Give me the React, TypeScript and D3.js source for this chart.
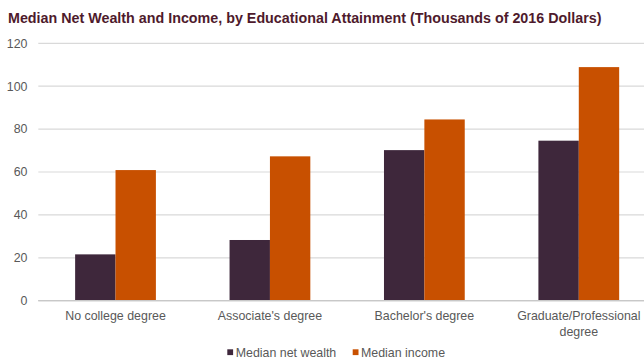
import React from "react";
import * as d3 from "d3";

const categories = ["No college degree", "Associate's degree", "Bachelor's degree", "Graduate/Professional degree"];
const seriesNames = ["Median net wealth", "Median income"];
const netWealth = [21.6, 28.3, 70.2, 74.6];
const income = [60.9, 67.3, 84.5, 108.9];
const yTicks = [0, 20, 40, 60, 80, 100, 120];

const W = 644;
const H = 358;
const FONT = "'Liberation Sans', Arial, sans-serif";
const colors = ["#3E273B", "#C85000"];
const TITLE = "Median Net Wealth and Income, by Educational Attainment (Thousands of 2016 Dollars)";

function measure(text: string, size: number): number {
  if (typeof document === "undefined") return text.length * size * 0.5;
  const c = document.createElement("canvas");
  const ctx = c.getContext("2d");
  if (!ctx) return text.length * size * 0.5;
  ctx.font = `${size}px 'Liberation Sans', Arial, sans-serif`;
  return ctx.measureText(text).width;
}

function wrap(text: string, maxW: number, size: number): string[] {
  const words = text.split(" ");
  const lines: string[] = [];
  let cur = "";
  for (const w of words) {
    const t = cur ? cur + " " + w : w;
    if (cur && measure(t, size) > maxW) {
      lines.push(cur);
      cur = w;
    } else cur = t;
  }
  if (cur) lines.push(cur);
  return lines;
}

export default function App() {
  const plotLeft = 38.3;
  const plotRight = 656;
  const y = d3.scaleLinear().domain([0, 120]).range([300.7, 43.3]);
  const x0 = d3
    .scaleBand<string>()
    .domain(categories)
    .range([plotLeft, plotRight])
    .paddingInner(0.477)
    .paddingOuter(0.2385);
  const x1 = d3.scaleBand<string>().domain(seriesNames).range([0, x0.bandwidth()]).padding(0);
  const data = [netWealth, income];
  const fs = 12.4;
  const step = x0.step();

  const legendItems = [
    { name: seriesNames[0], sx: 227.3, tx: 235.7 },
    { name: seriesNames[1], sx: 352.7, tx: 361 },
  ];

  return (
    <svg width={W} height={H} style={{ position: "absolute", left: 0, top: 0 }} fontFamily={FONT}>
      <rect width={W} height={H} fill="#ffffff" />
      <text x={8} y={22.5} fontSize={14.3} fontWeight="bold" fill="#4E1A2C">
        {TITLE}
      </text>
      {yTicks.map((t) => (
        <g key={t}>
          <line x1={plotLeft} x2={W} y1={y(t)} y2={y(t)} stroke={t === 0 ? "#c8c8c8" : "#d9d9d9"} strokeWidth={1.2} />
          <text x={27.5} y={y(t)} dy="0.35em" textAnchor="end" fontSize={fs} fill="#595959">
            {t}
          </text>
        </g>
      ))}
      {categories.map((c, i) => (
        <g key={c} transform={`translate(${x0(c)},0)`}>
          {seriesNames.map((s, k) => (
            <rect
              key={s}
              x={x1(s)}
              y={y(data[k][i])}
              width={x1.bandwidth()}
              height={y(0) - y(data[k][i])}
              fill={colors[k]}
            />
          ))}
        </g>
      ))}
      <line x1={plotLeft} x2={W} y1={y(0)} y2={y(0)} stroke="#c8c8c8" strokeWidth={1.2} />
      {categories.map((c) => {
        const lines = wrap(c, step - 4, fs);
        const cx = (x0(c) as number) + x0.bandwidth() / 2;
        return (
          <text key={c} x={cx} y={319.5} textAnchor="middle" fontSize={fs} fill="#595959">
            {lines.map((l, j) => (
              <tspan key={j} x={cx} dy={j === 0 ? 0 : 16.2}>
                {l}
              </tspan>
            ))}
          </text>
        );
      })}
      {legendItems.map((d, k) => (
        <g key={d.name}>
          <rect x={d.sx} y={349.3} width={5.8} height={5.8} fill={colors[k]} />
          <text x={d.tx} y={356.5} fontSize={fs} fill="#595959">
            {d.name}
          </text>
        </g>
      ))}
    </svg>
  );
}
